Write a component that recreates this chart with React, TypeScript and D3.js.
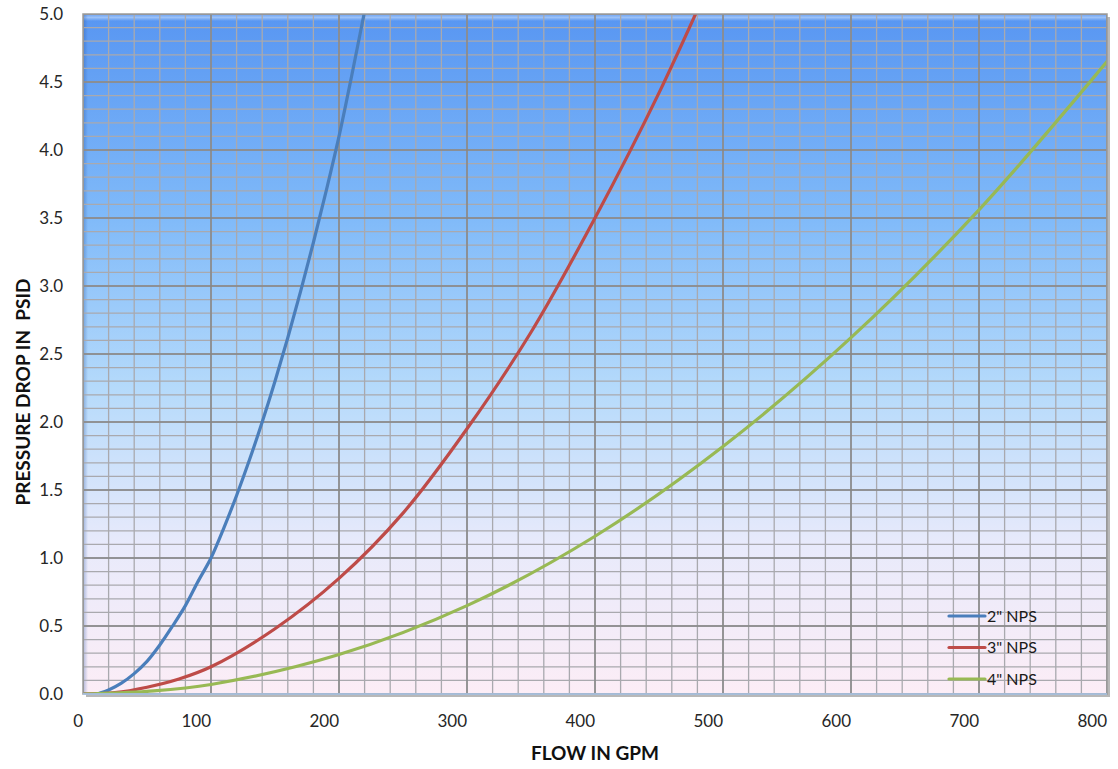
import React from "react";
import * as d3 from "d3";

const flow2 = [0, 10, 20, 30, 40, 50, 60, 70, 80, 90, 100, 110, 120, 130, 140, 150, 160, 170, 180, 190, 200, 210, 220, 230];
const psid2 = [0, 0.0, 0.03, 0.08, 0.15, 0.24, 0.36, 0.5, 0.65, 0.83, 1.0, 1.22, 1.46, 1.72, 2.0, 2.3, 2.62, 2.96, 3.32, 3.7, 4.1, 4.55, 5.02, 5.5];
const flow3 = [0, 25, 50, 75, 100, 150, 200, 250, 300, 350, 400, 450, 500];
const psid3 = [0, 0.01, 0.05, 0.11, 0.2, 0.48, 0.85, 1.33, 1.95, 2.66, 3.5, 4.42, 5.45];
const flow4 = [0, 50, 100, 200, 300, 400, 500, 600, 700, 800, 820];
const psid4 = [0, 0.02, 0.07, 0.29, 0.65, 1.16, 1.82, 2.62, 3.56, 4.65, 4.88];

const seriesNames = ['2" NPS', '3" NPS', '4" NPS'];
const seriesColors = ["#4a7ebb", "#be4b48", "#98b954"];
const xTicks = [0, 100, 200, 300, 400, 500, 600, 700, 800];
const yTicks = [0, 0.5, 1, 1.5, 2, 2.5, 3, 3.5, 4, 4.5, 5];

export default function App() {
  const W = 1118, H = 769;
  const L = 83, R = 1107, T = 14, B = 694;
  const x = d3.scaleLinear().domain([0, 800]).range([L, R]);
  const y = d3.scaleLinear().domain([0, 5]).range([B, T]);
  const line = d3
    .line<[number, number]>()
    .x((d) => x(d[0]))
    .y((d) => y(d[1]))
    .curve(d3.curveCatmullRom.alpha(0.5));
  const data = [
    flow2.map((f, i) => [f, psid2[i]] as [number, number]),
    flow3.map((f, i) => [f, psid3[i]] as [number, number]),
    flow4.map((f, i) => [f, psid4[i]] as [number, number]),
  ];
  const minorX = d3.range(0, 801, 20);
  const minorY = d3.range(0, 51, 1).map((v) => v / 10);
  const font = "Lato, 'Open Sans', sans-serif";

  return (
    <svg width={W} height={H} style={{ position: "absolute", left: 0, top: 0, background: "#fff" }}>
      <defs>
        <linearGradient id="bg" x1="0" y1="0" x2="0" y2="1">
          <stop offset="0%" stopColor="#5896f2" />
          <stop offset="30%" stopColor="#80baf9" />
          <stop offset="55%" stopColor="#b5dafb" />
          <stop offset="78%" stopColor="#e8eafb" />
          <stop offset="100%" stopColor="#fcedf6" />
        </linearGradient>
        <linearGradient id="topbev" x1="0" y1="0" x2="0" y2="1">
          <stop offset="0%" stopColor="#ffffff" stopOpacity="0.1" />
          <stop offset="50%" stopColor="#ffffff" stopOpacity="0.4" />
          <stop offset="100%" stopColor="#ffffff" stopOpacity="0" />
        </linearGradient>
        <linearGradient id="leftbev" x1="0" y1="0" x2="1" y2="0">
          <stop offset="0%" stopColor="#1f4fa0" stopOpacity="0.35" />
          <stop offset="100%" stopColor="#1f4fa0" stopOpacity="0" />
        </linearGradient>
        <clipPath id="clip">
          <rect x={L} y={T} width={R - L} height={B - T} />
        </clipPath>
      </defs>
      <rect x={L + 3} y={T + 3} width={R - L} height={B - T} fill="#b8b8b8" />
      <rect x={L} y={T} width={R - L} height={B - T} fill="url(#bg)" />
      <rect x={L} y={T} width={R - L} height={7} fill="url(#topbev)" />
      <rect x={L} y={T} width={5} height={B - T} fill="url(#leftbev)" />
      <g clipPath="url(#clip)">
        {minorX.map((v) => (
          <line key={"mx" + v} x1={x(v)} x2={x(v)} y1={T} y2={B} stroke="#a9a9ae" strokeWidth={1.3} />
        ))}
        {minorY.map((v) => (
          <line key={"my" + v} x1={L} x2={R} y1={y(v)} y2={y(v)} stroke="#a9a9ae" strokeWidth={1.3} />
        ))}
        {xTicks.map((v) => (
          <line key={"Mx" + v} x1={x(v)} x2={x(v)} y1={T} y2={B} stroke="#868686" strokeWidth={1.5} />
        ))}
        {yTicks.map((v) => (
          <line key={"My" + v} x1={L} x2={R} y1={y(v)} y2={y(v)} stroke="#868686" strokeWidth={1.5} />
        ))}
        {data.map((d, i) => (
          <path key={"s" + i} d={line(d) || ""} fill="none" stroke={seriesColors[i]} strokeWidth={3.2} strokeLinecap="round" />
        ))}
      </g>
      <rect x={L} y={T} width={R - L} height={B - T} fill="none" stroke="#9a9a9a" strokeWidth={1.5} />
      <line x1={L} x2={R} y1={B} y2={B} stroke="#a9c6ea" strokeWidth={1.5} />
      {seriesNames.map((n, i) => (
        <g key={"lg" + i}>
          <line x1={949} x2={985} y1={616 + i * 31.5} y2={616 + i * 31.5} stroke={seriesColors[i]} strokeWidth={3.2} strokeLinecap="round" />
          <text x={987} y={616 + i * 31.5} dy="0.35em" fontFamily={font} fontSize={16} fill="#1a1a1a">{n}</text>
        </g>
      ))}
      {xTicks.map((v) => (
        <text key={"xt" + v} x={x(v)} y={721} dy="0.35em" textAnchor="end" fontFamily={font} fontSize={17} fill="#262626">{v}</text>
      ))}
      {yTicks.map((v) => (
        <text key={"yt" + v} x={63} y={y(v)} dy="0.35em" textAnchor="end" fontFamily={font} fontSize={17} fill="#262626">{v.toFixed(1)}</text>
      ))}
      <text x={595} y={753} dy="0.35em" textAnchor="middle" fontFamily={font} fontWeight="bold" fontSize={19} fill="#111">FLOW IN GPM</text>
      <text transform="translate(23,392) rotate(-90)" dy="0.35em" textAnchor="middle" fontFamily={font} fontWeight="bold" fontSize={19} fill="#111" style={{ whiteSpace: "pre" }}>PRESSURE DROP IN  PSID</text>
    </svg>
  );
}
